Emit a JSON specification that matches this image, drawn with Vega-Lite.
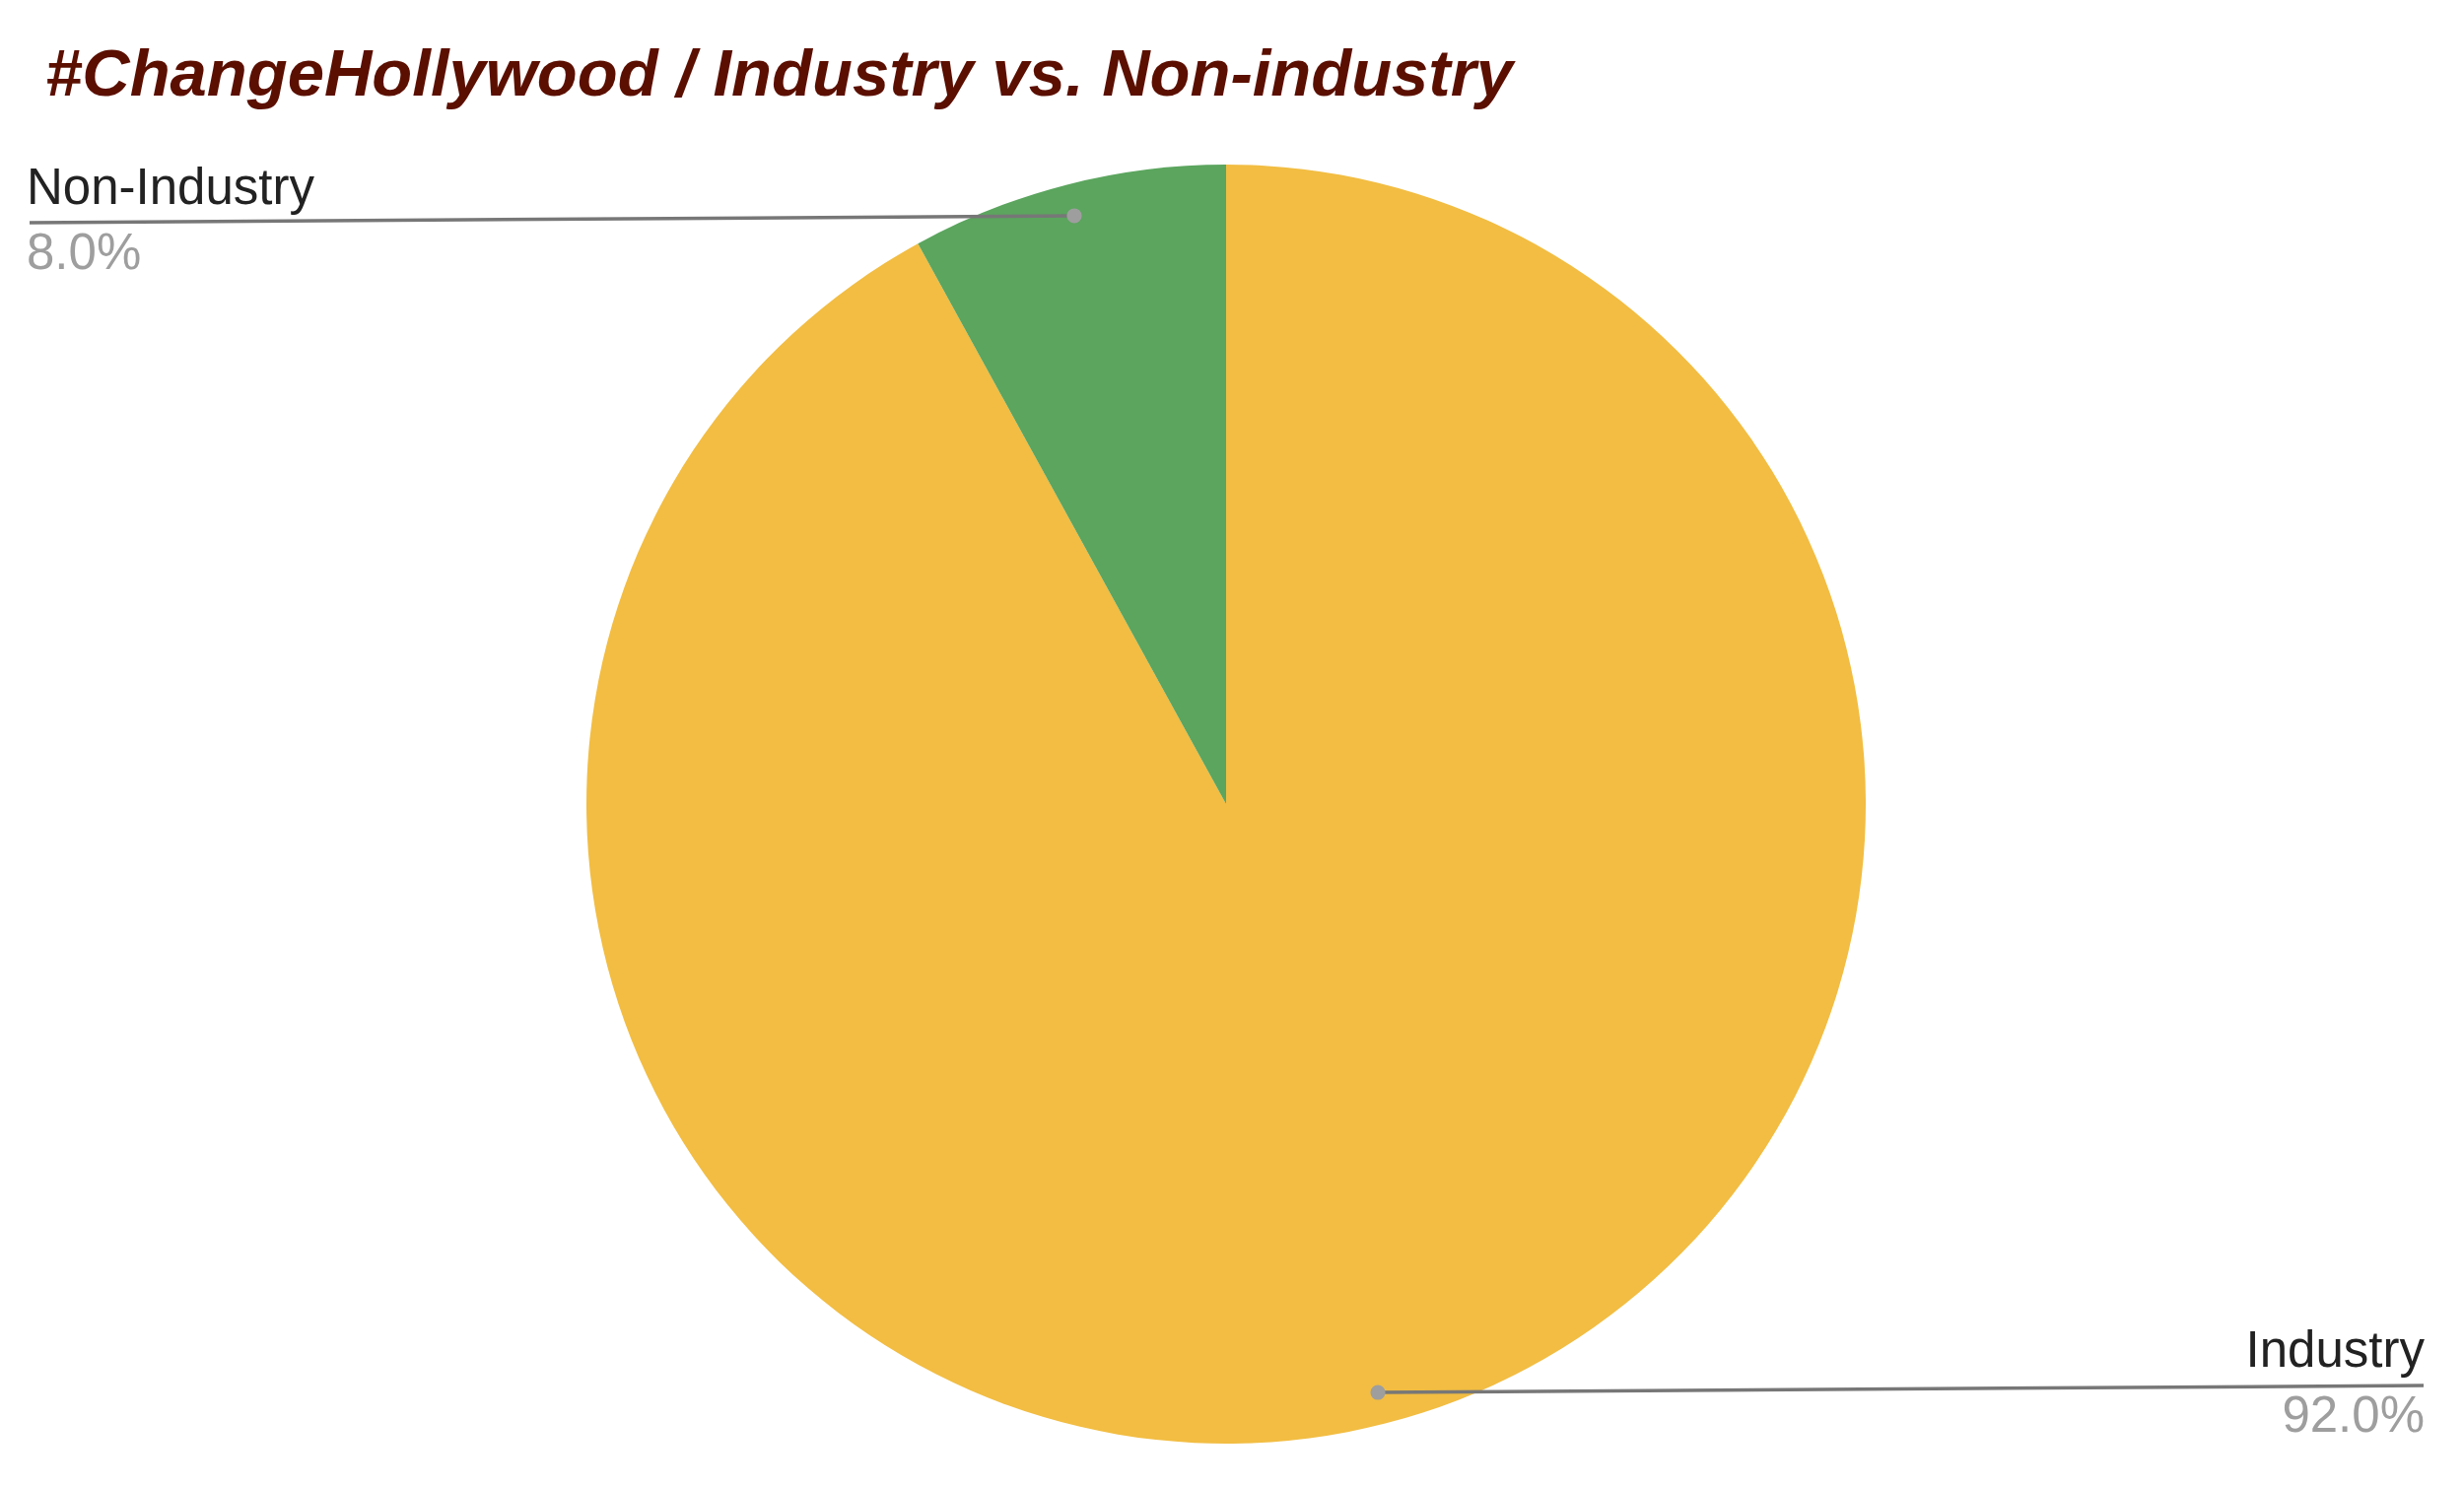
{
  "$schema": "https://vega.github.io/schema/vega-lite/v6.json",
  "autosize": {"type": "none"},
  "padding": {"left": 0, "top": 140, "right": 12, "bottom": 16},
  "width": 2488,
  "height": 1352,
  "background": "white",
  "title": {
    "text": "#ChangeHollywood / Industry vs. Non-industry",
    "anchor": "start",
    "frame": "group",
    "font": "Liberation Sans",
    "fontSize": 67,
    "fontStyle": "italic",
    "fontWeight": "bold",
    "color": "#5b0f00",
    "dx": 46,
    "offset": -24,
    "baseline": "alphabetic"
  },
  "data": {
    "values": [
      {"category": "Industry", "share": 0.92},
      {"category": "Non-Industry", "share": 0.08}
    ]
  },
  "config": {"view": {"stroke": null}},
  "resolve": {"scale": {"x": "independent", "y": "independent"}},
  "layer": [
    {
      "mark": {"type": "arc", "outerRadius": 649},
      "encoding": {
        "theta": {"field": "share", "type": "quantitative", "stack": true},
        "color": {
          "field": "category",
          "type": "nominal",
          "scale": {"domain": ["Industry", "Non-Industry"], "range": ["#f2bd42", "#5ba55e"]},
          "legend": null
        },
        "order": {"field": "category", "type": "ordinal", "sort": "ascending"}
      }
    },
    {
      "transform": [{"filter": "datum.category === 'Non-Industry'"}],
      "mark": {"type": "rule", "stroke": "#777777", "strokeWidth": 3.5},
      "encoding": {
        "x": {"datum": -1.8706, "type": "quantitative", "scale": {"domain": [-1.9168, 1.9168]}, "axis": null},
        "x2": {"datum": -0.2373},
        "y": {"datum": 0.9091, "type": "quantitative", "scale": {"domain": [-1.0416, 1.0416]}, "axis": null},
        "y2": {"datum": 0.9199}
      }
    },
    {
      "transform": [{"filter": "datum.category === 'Industry'"}],
      "mark": {"type": "rule", "stroke": "#777777", "strokeWidth": 3.5},
      "encoding": {
        "x": {"datum": 1.8721, "type": "quantitative", "scale": {"domain": [-1.9168, 1.9168]}, "axis": null},
        "x2": {"datum": 0.2373},
        "y": {"datum": -0.9091, "type": "quantitative", "scale": {"domain": [-1.0416, 1.0416]}, "axis": null},
        "y2": {"datum": -0.9199}
      }
    },
    {
      "transform": [{"filter": "datum.category === 'Non-Industry'"}],
      "mark": {"type": "point", "filled": true, "color": "#9e9e9e", "opacity": 1, "size": 230},
      "encoding": {
        "x": {"datum": -0.2373, "type": "quantitative", "scale": {"domain": [-1.9168, 1.9168]}, "axis": null},
        "y": {"datum": 0.9199, "type": "quantitative", "scale": {"domain": [-1.0416, 1.0416]}, "axis": null}
      }
    },
    {
      "transform": [{"filter": "datum.category === 'Industry'"}],
      "mark": {"type": "point", "filled": true, "color": "#9e9e9e", "opacity": 1, "size": 230},
      "encoding": {
        "x": {"datum": 0.2373, "type": "quantitative", "scale": {"domain": [-1.9168, 1.9168]}, "axis": null},
        "y": {"datum": -0.9199, "type": "quantitative", "scale": {"domain": [-1.0416, 1.0416]}, "axis": null}
      }
    },
    {
      "mark": {
        "type": "text",
        "font": "Liberation Sans",
        "fontSize": 51,
        "color": "#222222",
        "baseline": "alphabetic",
        "dy": -19,
        "align": {"expr": "datum.category === 'Industry' ? 'right' : 'left'"}
      },
      "encoding": {
        "x": {"field": "category", "type": "nominal", "scale": {"type": "point", "padding": 0, "domain": ["Non-Industry", "Industry"], "range": [27, 2460]}, "axis": null},
        "y": {"field": "category", "type": "nominal", "scale": {"type": "point", "padding": 0, "domain": ["Non-Industry", "Industry"], "range": [86, 1266]}, "axis": null},
        "text": {"field": "category", "type": "nominal"}
      }
    },
    {
      "mark": {
        "type": "text",
        "font": "Liberation Sans",
        "fontSize": 51,
        "color": "#9e9e9e",
        "baseline": "alphabetic",
        "dy": 47,
        "align": {"expr": "datum.category === 'Industry' ? 'right' : 'left'"}
      },
      "encoding": {
        "x": {"field": "category", "type": "nominal", "scale": {"type": "point", "padding": 0, "domain": ["Non-Industry", "Industry"], "range": [27, 2460]}, "axis": null},
        "y": {"field": "category", "type": "nominal", "scale": {"type": "point", "padding": 0, "domain": ["Non-Industry", "Industry"], "range": [86, 1266]}, "axis": null},
        "text": {"field": "share", "type": "quantitative", "format": ".1%"}
      }
    }
  ]
}
